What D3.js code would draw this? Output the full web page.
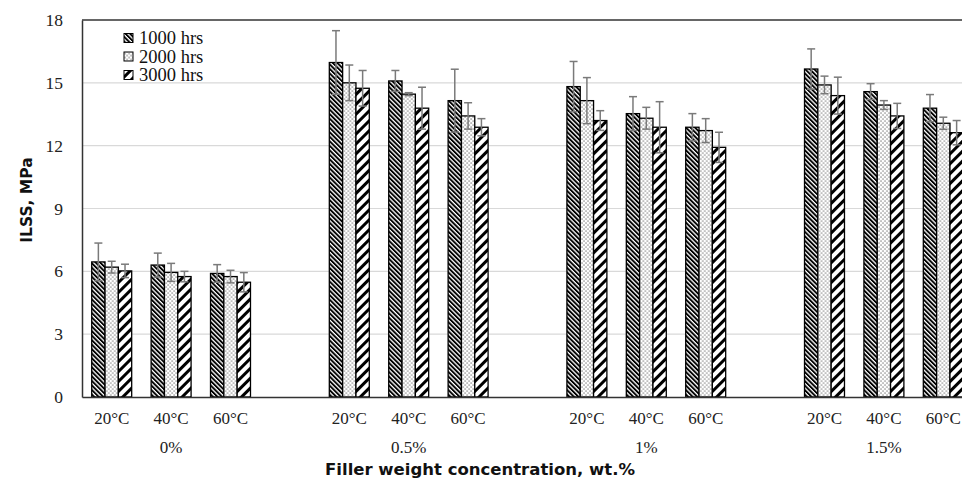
<!DOCTYPE html>
<html>
<head>
<meta charset="utf-8">
<script src="https://cdn.jsdelivr.net/npm/d3@7"></script>
<style>
  body { margin: 0; background: #fff; }
  svg { display: block; }
</style>
</head>
<body>
<script>
// data: ILSS per filler concentration and temperature, one array per ageing time
var groups = ["0%", "0.5%", "1%", "1.5%"];
var temps = ["20°C", "40°C", "60°C"];
var series = ["1000 hrs", "2000 hrs", "3000 hrs"];
var yTicks = [0, 3, 6, 9, 12, 15, 18];

// order: 0% (20,40,60), 0.5% (20,40,60), 1% (...), 1.5% (...)
var ilss1000 = [6.45, 6.3, 5.9, 15.97, 15.09, 14.15, 14.82, 13.53, 12.88, 15.66, 14.58, 13.79];
var ilss2000 = [6.2, 5.95, 5.75, 15.0, 14.46, 13.42, 14.15, 13.31, 12.72, 14.9, 13.94, 13.07];
var ilss3000 = [6.02, 5.75, 5.48, 14.74, 13.79, 12.88, 13.2, 12.88, 11.92, 14.39, 13.42, 12.62];
var err1000 = [0.9, 0.57, 0.42, 1.52, 0.5, 1.5, 1.2, 0.81, 0.65, 0.96, 0.38, 0.65];
var err2000 = [0.28, 0.43, 0.3, 0.85, 0.07, 0.63, 1.1, 0.52, 0.57, 0.42, 0.21, 0.29];
var err3000 = [0.32, 0.25, 0.46, 0.85, 1.0, 0.41, 0.47, 1.22, 0.72, 0.88, 0.6, 0.58];

var values = [ilss1000, ilss2000, ilss3000];
var errors = [err1000, err2000, err3000];

var margin = { top: 20, right: 0, bottom: 86, left: 82 },
    width = 891,   // plot runs past the right edge of the picture
    height = 483 - margin.top - margin.bottom;

// slots: three temperatures per group, an empty slot between groups
var slots = [];
var rows = [];
groups.forEach(function (g, gi) {
    temps.forEach(function (t, ti) {
        var k = gi * 3 + ti;
        slots.push(g + "|" + t);
        rows.push({
            key: g + "|" + t,
            temp: t,
            vals: series.map(function (s, si) {
                return { s: s, si: si, v: values[si][k], e: errors[si][k] };
            })
        });
    });
    if (gi < groups.length - 1) slots.push("gap" + gi);
});

var x0 = d3.scaleBand()
    .domain(slots)
    .range([0, width])
    .paddingInner(0.327)
    .paddingOuter(0.1635);

var x1 = d3.scaleBand()
    .domain(series)
    .range([0, x0.bandwidth()]);

var y = d3.scaleLinear()
    .domain([0, 18])
    .range([height, 0]);

var svg = d3.select("body").append("svg")
    .attr("width", 962)
    .attr("height", 483);

// hatch patterns
var defs = svg.append("defs");

var p1 = defs.append("pattern")
    .attr("id", "pat0")
    .attr("patternUnits", "userSpaceOnUse")
    .attr("width", 3.2).attr("height", 10)
    .attr("patternTransform", "rotate(-45)");
p1.append("rect").attr("width", 3.2).attr("height", 10).attr("fill", "#fff");
p1.append("rect").attr("width", 1.9).attr("height", 10).attr("fill", "#000");

var p2 = defs.append("pattern")
    .attr("id", "pat1")
    .attr("patternUnits", "userSpaceOnUse")
    .attr("width", 4).attr("height", 4);
p2.append("rect").attr("width", 4).attr("height", 4).attr("fill", "#fff");
p2.append("rect").attr("x", 0.5).attr("y", 0.5).attr("width", 1.1).attr("height", 1.1).attr("fill", "#444");
p2.append("rect").attr("x", 2.5).attr("y", 2.5).attr("width", 1.1).attr("height", 1.1).attr("fill", "#444");

var p3 = defs.append("pattern")
    .attr("id", "pat2")
    .attr("patternUnits", "userSpaceOnUse")
    .attr("width", 7).attr("height", 10)
    .attr("patternTransform", "rotate(45)");
p3.append("rect").attr("width", 7).attr("height", 10).attr("fill", "#fff");
p3.append("rect").attr("width", 3).attr("height", 10).attr("fill", "#000");

var g = svg.append("g")
    .attr("transform", "translate(" + margin.left + "," + margin.top + ")");

// gridlines
g.append("g")
    .selectAll("line")
    .data(yTicks.filter(function (d) { return d > 0 && d < 18; }))
    .enter().append("line")
    .attr("x1", 0)
    .attr("x2", width)
    .attr("y1", function (d) { return y(d); })
    .attr("y2", function (d) { return y(d); })
    .attr("stroke", "#d9d9d9")
    .attr("stroke-width", 1.2);

// frame top line
g.append("line")
    .attr("x1", 0).attr("x2", width)
    .attr("y1", y(18)).attr("y2", y(18))
    .attr("stroke", "#333")
    .attr("stroke-width", 1.5);

// bars
var slot = g.append("g")
    .selectAll("g")
    .data(rows)
    .enter().append("g")
    .attr("transform", function (d) { return "translate(" + x0(d.key) + ",0)"; });

slot.selectAll("rect")
    .data(function (d) { return d.vals; })
    .enter().append("rect")
    .attr("x", function (d) { return x1(d.s); })
    .attr("y", function (d) { return y(d.v); })
    .attr("width", x1.bandwidth())
    .attr("height", function (d) { return y(0) - y(d.v); })
    .attr("fill", function (d) { return "url(#pat" + d.si + ")"; })
    .attr("stroke", "#000")
    .attr("stroke-width", 1.3);

// error bars
var eb = slot.selectAll("g.err")
    .data(function (d) { return d.vals; })
    .enter().append("g")
    .attr("class", "err")
    .attr("stroke", "#7a7a7a")
    .attr("stroke-width", 1.5);

eb.append("line")
    .attr("x1", function (d) { return x1(d.s) + x1.bandwidth() / 2; })
    .attr("x2", function (d) { return x1(d.s) + x1.bandwidth() / 2; })
    .attr("y1", function (d) { return y(d.v - d.e); })
    .attr("y2", function (d) { return y(d.v + d.e); });

[1, -1].forEach(function (sign) {
    eb.append("line")
        .attr("x1", function (d) { return x1(d.s) + x1.bandwidth() / 2 - 4; })
        .attr("x2", function (d) { return x1(d.s) + x1.bandwidth() / 2 + 4; })
        .attr("y1", function (d) { return y(d.v + sign * d.e); })
        .attr("y2", function (d) { return y(d.v + sign * d.e); });
});

// y axis
var yAxis = g.append("g")
    .call(d3.axisLeft(y).tickValues(yTicks).tickSize(0).tickPadding(19));
yAxis.select(".domain").attr("stroke", "#333").attr("stroke-width", 1.5);
yAxis.selectAll("text")
    .attr("font-family", "'Liberation Serif', serif")
    .attr("font-size", 17.5)
    .attr("fill", "#222");

// x axis with temperature labels
var xAxis = g.append("g")
    .attr("transform", "translate(0," + height + ")")
    .call(d3.axisBottom(x0)
        .tickValues(rows.map(function (d) { return d.key; }))
        .tickFormat(function (d) { return d.split("|")[1]; })
        .tickSize(0)
        .tickPadding(15));
xAxis.select(".domain").attr("stroke", "#333").attr("stroke-width", 1.5);
xAxis.selectAll("text")
    .attr("font-family", "'Liberation Serif', serif")
    .attr("font-size", 17)
    .attr("fill", "#222");

// group labels under the middle temperature
g.append("g")
    .selectAll("text")
    .data(groups)
    .enter().append("text")
    .attr("x", function (d) { return x0(d + "|" + temps[1]) + x0.bandwidth() / 2; })
    .attr("y", height + 56)
    .attr("text-anchor", "middle")
    .attr("font-family", "'Liberation Serif', serif")
    .attr("font-size", 17)
    .attr("fill", "#222")
    .text(function (d) { return d; });

// axis titles
svg.append("text")
    .attr("x", 480)
    .attr("y", 475)
    .attr("text-anchor", "middle")
    .attr("font-family", "'DejaVu Sans', sans-serif")
    .attr("font-weight", "bold")
    .attr("font-size", 16.5)
    .attr("fill", "#111")
    .text("Filler weight concentration, wt.%");

svg.append("text")
    .attr("transform", "translate(32,200) rotate(-90)")
    .attr("text-anchor", "middle")
    .attr("font-family", "'DejaVu Sans', sans-serif")
    .attr("font-weight", "bold")
    .attr("font-size", 15.5)
    .attr("fill", "#111")
    .text("ILSS, MPa");

// legend
var legenda = svg.append("g")
    .selectAll("g")
    .data(series)
    .enter().append("g")
    .attr("transform", function (d, i) { return "translate(124," + (38 + i * 18.5) + ")"; });

legenda.append("rect")
    .attr("y", -4.5)
    .attr("width", 9)
    .attr("height", 9)
    .attr("fill", function (d, i) { return "url(#pat" + i + ")"; })
    .attr("stroke", "#000")
    .attr("stroke-width", 1);

legenda.append("text")
    .attr("x", 15)
    .attr("dy", "0.35em")
    .attr("font-family", "'Liberation Serif', serif")
    .attr("font-size", 18.5)
    .attr("fill", "#111")
    .text(function (d) { return d; });
</script>
</body>
</html>
